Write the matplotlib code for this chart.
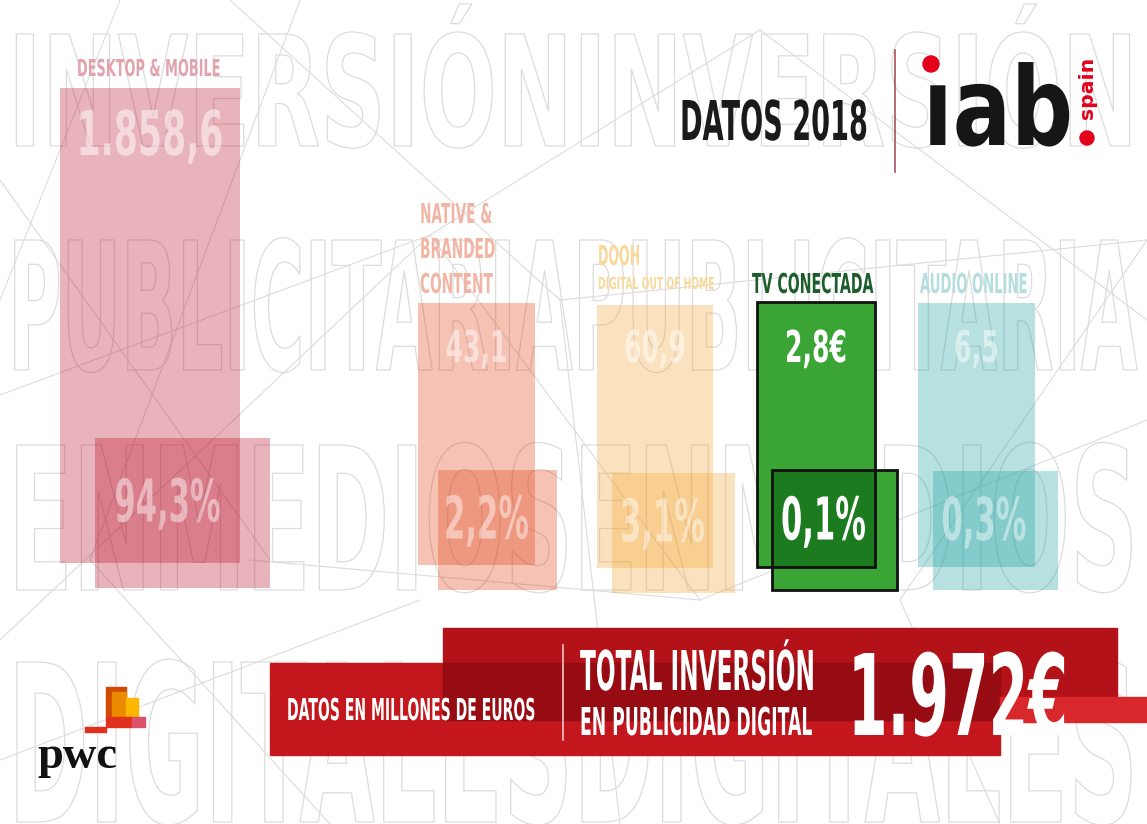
import matplotlib
matplotlib.use('Agg')
import matplotlib.pyplot as plt
import matplotlib.patheffects as pe
from matplotlib.font_manager import FontProperties
from matplotlib.patches import Rectangle, Circle
from matplotlib.text import Text
from matplotlib.transforms import Affine2D, Bbox

### DATA ###
categories = ['DESKTOP & MOBILE', 'NATIVE &\nBRANDED\nCONTENT', 'DOOH', 'TV CONECTADA', 'AUDIO ONLINE']
subtitles = ['', '', 'DIGITAL OUT OF HOME', '', '']
values = [1858.6, 43.1, 60.9, 2.8, 6.5]          # millones de euros
value_suffix = ['', '', '', '€', '']
shares = [94.3, 2.2, 3.1, 0.1, 0.3]              # % del total
total = 1972
year = 2018
watermark = ['INVERSIÓNINVERSIÓN', 'PUBLICITARIAPUBLICITARIA', 'ENMEDIOSENMEDIOS', 'DIGITALESDIGITALES']

### LAYOUT (pixels, infographic style - bars are not to scale) ###
bar_left = [60, 418, 597, 757, 918]
bar_right = [240, 535, 713, 875, 1035]
bar_top = [88, 303, 305, 302, 303]
bar_bottom = [563, 565, 568, 567, 567]
sq_left = [95, 438, 612, 772, 933]
sq_right = [270, 557, 735, 897, 1058]
sq_top = [438, 470, 473, 470, 471]
sq_bottom = [588, 590, 593, 590, 590]
base_colors = ['#b90520', '#de3708', '#f5a02a', '#3aa535', '#0f9e9b']
label_colors = ['#e3a3ad', '#f2b5a3', '#f8d99b', '#1b5e2b', '#b4dedd']
label_x = [77, 420, 598, 752, 920]
label_base = [76, 293, 265, 293, 293]
label_w = [143, 72, 42, 121, 107]
label_cap = [17, 20, 20, 20, 20]
wm_base = [146, 370, 590, 822]
wm_cap = [112, 130, 145, 160]

FP = FontProperties(family='DejaVu Sans', weight='bold')
CAP = 0.729  # cap height of DejaVu Sans Bold, in em


def es_num(v, dec=1):
    s = f"{v:,.{dec}f}"
    return s.replace(',', 'X').replace('.', ',').replace('X', '.')


class Squeeze(pe.AbstractPathEffect):
    # squeeze glyph outlines horizontally around x0 (condensed look)
    def __init__(self, sx, x0, stroke=None, lw=1.0):
        super().__init__()
        self.sx, self.x0, self.stroke, self.lw = sx, x0, stroke, lw

    def draw_path(self, renderer, gc, tpath, affine, rgbFace=None):
        aff = affine + Affine2D().translate(-self.x0, 0).scale(self.sx, 1).translate(self.x0, 0)
        if self.stroke is None:
            renderer.draw_path(gc, tpath, aff, rgbFace)
        else:
            gc0 = renderer.new_gc()
            gc0.copy_properties(gc)
            gc0.set_foreground(self.stroke)
            gc0.set_linewidth(self.lw)
            renderer.draw_path(gc0, tpath, aff, None)
            gc0.restore()


class CondText(Text):
    def __init__(self, x, y, s, squeeze=1.0, stroke=None, lw=1.0, **kw):
        super().__init__(x, y, s, **kw)
        self.squeeze, self.stroke, self.lw = squeeze, stroke, lw

    def _x0(self):
        return self.get_transform().transform(self.get_unitless_position())[0]

    def get_window_extent(self, renderer=None, dpi=None):
        bb = super().get_window_extent(renderer, dpi)
        ha = self.get_horizontalalignment()
        x0 = {'left': bb.x0, 'right': bb.x1}.get(ha, (bb.x0 + bb.x1) / 2)
        s = self.squeeze
        return Bbox([[x0 + (bb.x0 - x0) * s, bb.y0], [x0 + (bb.x1 - x0) * s, bb.y1]])

    def draw(self, renderer):
        self.set_path_effects([Squeeze(self.squeeze, self._x0(), self.stroke, self.lw)])
        super().draw(renderer)


fig = plt.figure(figsize=(11.47, 8.24), dpi=100)
ax = fig.add_axes([0, 0, 1, 1])
ax.set_xlim(0, 1147)
ax.set_ylim(824, 0)
ax.axis('off')
renderer = fig.canvas.get_renderer()


def ctext(x, y, s, fs, sq, ha='left', va='baseline', fp=FP, **kw):
    t = CondText(x, y, s, squeeze=sq, fontproperties=fp, fontsize=fs, ha=ha, va=va, **kw)
    ax.add_artist(t)
    return t


def cfit(x, y, s, width, cap, ha='left', va='baseline', capk=CAP, **kw):
    # font size from cap height (px), horizontal squeeze from target width (px)
    fs = cap / capk * 0.72
    t = ctext(x, y, s, fs, 1.0, ha=ha, va=va, **kw)
    t.squeeze = width / t.get_window_extent(renderer).width
    return t


def fit(x, y, s, width, ha='left', va='center', use_height=False, **kw):
    t = ax.text(x, y, s, ha=ha, va=va, **kw)
    t.set_fontsize(20)
    bb = t.get_window_extent(renderer=renderer)
    t.set_fontsize(20 * width / (bb.height if use_height else bb.width))
    return t


# background watermark words (outlined)
for word, y, cap in zip(watermark, wm_base, wm_cap):
    cfit(8, y, word, 1130, cap, color='white', zorder=0, stroke='#dcdcdc', lw=0.9)

# faint network lines
mesh = [((0, 395), (430, 235)), ((230, 0), (560, 300)), ((300, 0), (90, 560)),
        ((0, 180), (270, 560)), ((430, 235), (760, 30)), ((560, 300), (1147, 240)),
        ((430, 235), (700, 600)), ((700, 600), (1147, 420)), ((0, 640), (430, 235)),
        ((90, 560), (330, 824)), ((560, 300), (620, 824)), ((760, 30), (1147, 320)),
        ((1147, 240), (900, 600)), ((0, 760), (420, 600)), ((250, 560), (700, 600)),
        ((120, 0), (0, 300)), ((900, 600), (1000, 824))]
for (x0, y0), (x1, y1) in mesh:
    ax.plot([x0, x1], [y0, y1], color='#dcdcdc', lw=0.8, zorder=1)

# bars (back) and share squares (front)
for i in range(len(categories)):
    if categories[i] == 'TV CONECTADA':
        kw = dict(color=base_colors[i], align='edge', zorder=3)
        ax.bar(bar_left[i], bar_bottom[i] - bar_top[i], bar_right[i] - bar_left[i], bar_top[i], **kw)
        ax.bar(sq_left[i], sq_bottom[i] - sq_top[i], sq_right[i] - sq_left[i], sq_top[i], **kw)
        ox0, ox1 = max(bar_left[i], sq_left[i]), min(bar_right[i], sq_right[i])
        oy0, oy1 = max(bar_top[i], sq_top[i]), min(bar_bottom[i], sq_bottom[i])
        ax.bar(ox0, oy1 - oy0, ox1 - ox0, oy0, color='#1d7b1f', align='edge', zorder=4)
        for l, r, t, b in [(bar_left[i], bar_right[i], bar_top[i], bar_bottom[i]),
                           (sq_left[i], sq_right[i], sq_top[i], sq_bottom[i])]:
            ax.bar(l, b - t, r - l, t, fill=False, edgecolor='#111111', lw=2, align='edge', zorder=5)
    else:
        kw = dict(color=base_colors[i], alpha=0.3, align='edge', lw=0, zorder=3)
        ax.bar(bar_left[i], bar_bottom[i] - bar_top[i], bar_right[i] - bar_left[i], bar_top[i], **kw)
        ax.bar(sq_left[i], sq_bottom[i] - sq_top[i], sq_right[i] - sq_left[i], sq_top[i], **kw)

# category labels
for i in range(len(categories)):
    lines = categories[i].split('\n')
    widest = max(lines, key=len)
    lref = cfit(label_x[i], label_base[i], widest, label_w[i], label_cap[i],
                color=label_colors[i], zorder=6)
    lref.set_text(lines[-1])
    for k, line in enumerate(lines[:-1]):
        ctext(label_x[i], label_base[i] - 35 * (len(lines) - 1 - k), line,
              lref.get_fontsize(), lref.squeeze, color=label_colors[i], zorder=6)
    if subtitles[i]:
        cfit(label_x[i], 289, subtitles[i], 117, 12, color=label_colors[i], zorder=6)

# value labels
val_txt = [es_num(v) + s for v, s in zip(values, value_suffix)]
ref = cfit(816, 362, val_txt[3], 62, 32, ha='center', color='white', zorder=6)
for i in range(len(categories)):
    cx = (bar_left[i] + bar_right[i]) / 2
    if i == 0:
        cfit(cx, 155, val_txt[i], 147, 45, ha='center', color='white', alpha=0.5, zorder=6)
    elif categories[i] == 'TV CONECTADA':
        ref.set_x(cx)
    else:
        ctext(cx, 362, val_txt[i], ref.get_fontsize(), ref.squeeze, ha='center',
              color='white', alpha=0.5, zorder=6)

# share labels
pct_txt = [es_num(s) + '%' for s in shares]
pref = cfit(0, 0, pct_txt[3], 85, 43, ha='center')
pref.remove()
for i in range(len(categories)):
    cx = (max(bar_left[i], sq_left[i]) + min(bar_right[i], sq_right[i])) / 2
    cy = (max(bar_top[i], sq_top[i]) + min(bar_bottom[i], sq_bottom[i])) / 2
    solid = categories[i] == 'TV CONECTADA'
    ctext(cx, cy + 21, pct_txt[i], pref.get_fontsize(), pref.squeeze, ha='center',
          color='white', alpha=1 if solid else 0.45, zorder=6)

# header
cfit(680, 140, f'DATOS {year}', 188, 40, color='#1a1a1a', zorder=6)
ax.plot([895, 895], [50, 172], color='#a8505e', lw=1.2)
cfit(923, 145, 'ıab', 150, 83, capk=0.76, color='#161616', zorder=6,
     fp=FontProperties(family='DejaVu Sans', weight='heavy'))
ax.add_patch(Circle((931, 64), 8, color='#e3001b', zorder=5))
fit(1088, 88, 'spain', 62, ha='center', rotation=90, use_height=True, color='#e3001b',
    family='DejaVu Sans', fontweight='bold', zorder=6)
ax.add_patch(Circle((1087, 138), 7, color='#e3001b', zorder=5))

# pwc logo
ax.add_patch(Rectangle((106, 687), 20, 30, color='#d04a02', zorder=5))
ax.add_patch(Rectangle((112, 692), 14, 25, color='#eb8c00', zorder=5))
ax.add_patch(Rectangle((126, 698), 12, 19, color='#ffb600', zorder=5))
ax.add_patch(Rectangle((106, 717), 26, 10, color='#e0301e', zorder=5))
ax.add_patch(Rectangle((132, 717), 13, 10, color='#db536a', zorder=5))
ax.add_patch(Rectangle((85, 727), 21, 5, color='#e0301e', zorder=5))
fit(37, 768, 'pwc', 80, va='baseline', color='#111111', family=['Liberation Serif', 'DejaVu Serif'],
    fontweight='bold', zorder=6)

# total banner
ax.add_patch(Rectangle((270, 663), 730, 92, color='#c3161d', zorder=5))
ax.add_patch(Rectangle((443, 628), 674, 92, color='#b41219', zorder=5))
ax.add_patch(Rectangle((443, 663), 557, 57, color='#960c12', zorder=5))
ax.add_patch(Rectangle((1000, 697), 147, 25, color='#d8282c', zorder=5))
ax.plot([563, 563], [645, 740], color='#f3c4c4', lw=1.2, zorder=6)
cfit(287, 720, 'DATOS EN MILLONES DE EUROS', 248, 22, color='white', zorder=7)
cfit(580, 690, 'TOTAL INVERSIÓN', 235, 40, color='white', zorder=7)
cfit(580, 735, 'EN PUBLICIDAD DIGITAL', 232, 28, color='white', zorder=7)
cfit(848, 735, es_num(total, 0) + '€', 220, 82, color='white', zorder=7)

fig.savefig('out.png', dpi=100, facecolor='white')
